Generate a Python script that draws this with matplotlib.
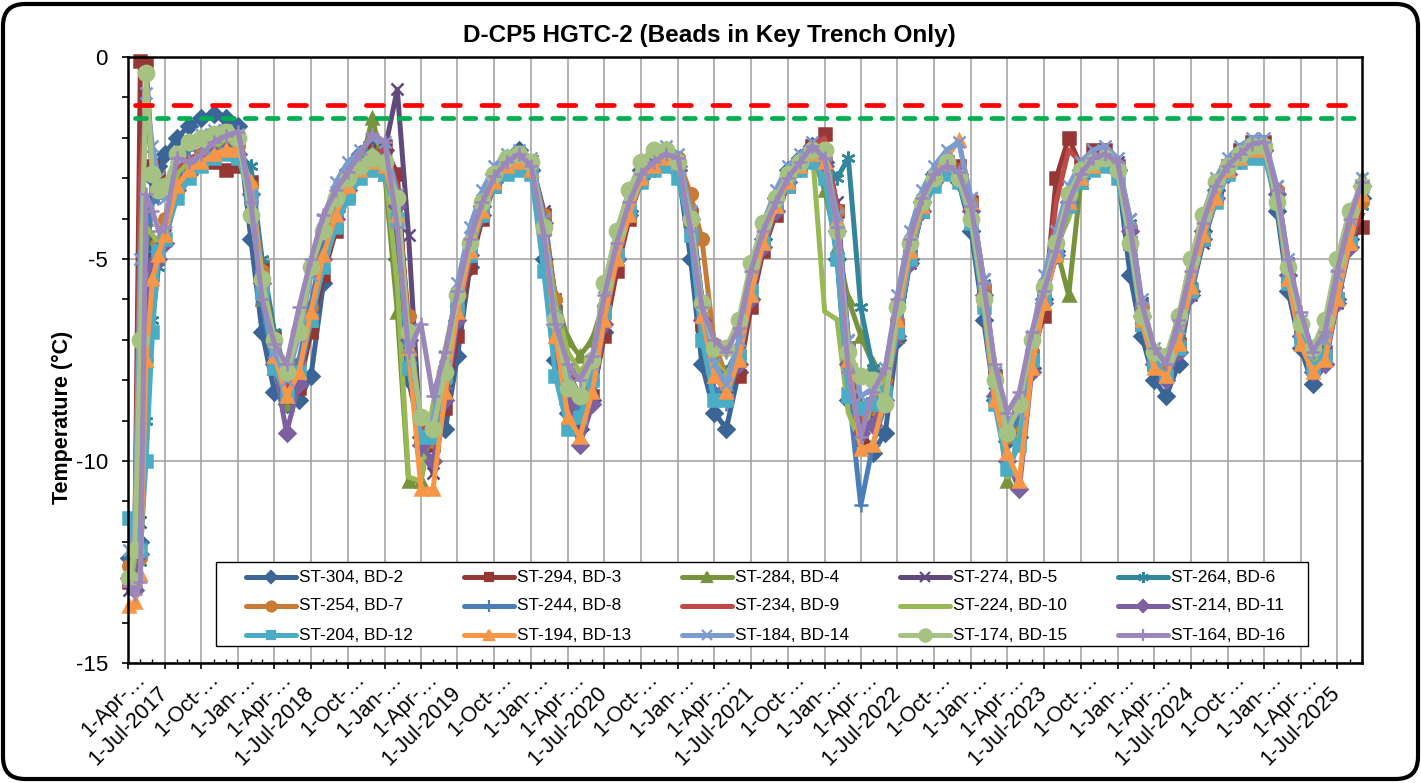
import matplotlib
matplotlib.use("Agg")
import matplotlib.pyplot as plt
import matplotlib.dates as mdates
from matplotlib.patches import FancyBboxPatch, Rectangle
from matplotlib.lines import Line2D
from matplotlib.transforms import ScaledTranslation, IdentityTransform
import pandas as pd

plt.rcParams["font.family"] = ["Liberation Sans", "DejaVu Sans"]
plt.rcParams["axes.unicode_minus"] = False

# sample dates: a few early readings, then monthly
early_dates = ["2017-04-04", "2017-04-18", "2017-05-02", "2017-05-16", "2017-06-01", "2017-06-16"]
dates = list(pd.to_datetime(early_dates)) + list(pd.date_range("2017-07-01", "2025-09-01", freq="MS"))

labels = ["ST-304, BD-2", "ST-294, BD-3", "ST-284, BD-4", "ST-274, BD-5", "ST-264, BD-6",
          "ST-254, BD-7", "ST-244, BD-8", "ST-234, BD-9", "ST-224, BD-10", "ST-214, BD-11",
          "ST-204, BD-12", "ST-194, BD-13", "ST-184, BD-14", "ST-174, BD-15", "ST-164, BD-16"]

bd2 = [-12.4, -12.9, -12.0, -5.5, -3.0, -2.7,
       -2.4, -2.0, -1.7, -1.5, -1.4, -1.5, -1.7, -4.5, -6.8, -8.3,
       -8.6, -8.5, -7.9, -5.6, -3.8, -2.8, -2.4, -2.1, -2.3, -5.0,
       -8.0, -9.4, -9.0, -9.2, -7.4, -5.2, -3.7, -2.9, -2.5, -2.3,
       -2.8, -5.0, -7.5, -8.8, -9.2, -8.5, -6.8, -5.0, -3.8, -2.8,
       -2.4, -2.3, -2.8, -5.0, -7.6, -8.8, -9.2, -7.8, -6.0, -4.5,
       -3.5, -2.8, -2.5, -2.2, -2.6, -5.0, -8.5, -9.5, -9.8, -9.3,
       -7.0, -5.0, -3.6, -2.9, -2.7, -3.1, -4.3, -6.5, -8.5, -9.5,
       -9.4, -7.7, -6.0, -4.8, -3.4, -2.8, -2.5, -2.4, -2.8, -5.4,
       -6.9, -8.0, -8.4, -7.6, -5.8, -4.3, -3.3, -2.7, -2.4, -2.2,
       -2.3, -3.8, -5.8, -7.2, -8.1, -7.6, -6.0, -4.5, -3.5]
bd3 = [-13.0, -12.0, -0.1, -0.2, -2.7, -3.0,
       -3.2, -2.9, -2.6, -2.5, -2.6, -2.8, -2.7, -3.1, -5.2, -6.9,
       -8.3, -8.2, -6.8, -5.4, -4.3, -3.4, -2.8, -2.3, -2.2, -2.9,
       -6.9, -9.4, -9.6, -8.7, -6.9, -5.2, -4.0, -3.2, -2.6, -2.5,
       -2.6, -3.9, -6.3, -7.9, -8.6, -8.4, -6.9, -5.3, -4.0, -3.0,
       -2.6, -2.5, -2.6, -3.9, -6.6, -7.9, -8.2, -7.9, -6.2, -4.8,
       -3.9, -3.2, -2.7, -2.2, -1.9, -3.8, -7.2, -9.4, -8.6, -8.1,
       -6.7, -5.0, -3.8, -3.0, -2.6, -2.7, -3.6, -5.8, -7.9, -9.1,
       -8.8, -7.4, -6.4, -3.0, -2.0, -2.7, -2.3, -2.3, -2.7, -4.6,
       -6.6, -7.6, -7.8, -7.1, -5.8, -4.5, -3.5, -2.7, -2.3, -2.1,
       -2.1, -3.4, -5.5, -6.9, -7.5, -7.3, -6.0, -4.6, -4.2]
bd4 = [-12.7, -13.0, -12.2, -4.0, -4.6, -4.9,
       -4.5, -3.0, -2.7, -2.5, -2.3, -2.2, -2.2, -3.7, -6.0, -7.7,
       -8.6, -8.0, -6.5, -5.1, -4.0, -3.3, -2.8, -1.5, -2.9, -6.3,
       -10.5, -10.5, -8.9, -7.5, -6.0, -4.7, -3.8, -3.0, -2.7, -2.6,
       -2.8, -4.2, -5.9, -7.0, -7.4, -7.0, -6.0, -4.9, -3.8, -3.0,
       -2.7, -2.5, -2.6, -4.0, -6.3, -7.6, -8.1, -7.3, -5.9, -4.6,
       -3.7, -3.1, -2.7, -2.4, -3.3, -4.7, -6.0, -6.9, -7.6, -8.2,
       -6.9, -5.0, -3.8, -3.0, -2.7, -2.9, -3.9, -5.9, -8.2, -10.5,
       -9.3, -7.3, -5.6, -4.7, -5.9, -3.1, -2.6, -2.4, -2.7, -4.4,
       -6.4, -7.5, -7.9, -7.0, -5.6, -4.4, -3.4, -2.8, -2.5, -2.3,
       -2.3, -3.6, -5.4, -6.8, -7.6, -7.4, -6.0, -4.4, -3.0]
bd5 = [-13.2, -12.6, -11.5, -4.6, -5.0, -4.8,
       -4.4, -3.3, -2.9, -2.6, -2.3, -2.2, -2.3, -3.3, -5.7, -7.4,
       -8.5, -7.6, -6.3, -5.0, -4.0, -3.3, -2.8, -2.5, -2.3, -0.8,
       -4.4, -9.6, -10.3, -8.6, -6.6, -5.0, -3.9, -3.1, -2.7, -2.5,
       -2.6, -3.8, -6.0, -7.7, -8.5, -8.2, -6.7, -5.0, -3.8, -3.0,
       -2.6, -2.4, -2.6, -3.6, -6.0, -7.4, -8.1, -7.5, -6.0, -4.7,
       -3.8, -3.1, -2.7, -2.4, -2.6, -3.6, -7.0, -8.6, -8.9, -8.4,
       -6.9, -5.1, -3.8, -3.0, -2.7, -2.8, -3.5, -5.5, -7.8, -9.4,
       -9.2, -7.4, -6.0, -4.9, -3.5, -2.9, -2.6, -2.4, -2.6, -4.0,
       -6.1, -7.4, -7.8, -7.2, -5.9, -4.6, -3.6, -2.9, -2.5, -2.3,
       -2.2, -3.2, -5.1, -6.6, -7.6, -7.4, -6.1, -4.6, -3.4]
bd6 = [-12.4, -12.9, -12.5, -9.0, -6.5, -5.2,
       -4.6, -3.4, -2.9, -2.6, -2.4, -2.3, -2.4, -2.7, -5.0, -6.8,
       -7.9, -7.6, -6.4, -5.1, -4.0, -3.3, -2.9, -2.7, -2.9, -3.6,
       -7.6, -9.7, -9.4, -7.9, -6.2, -4.8, -3.8, -3.1, -2.8, -2.6,
       -2.8, -3.9, -6.2, -7.8, -8.4, -8.0, -6.4, -5.0, -3.9, -3.1,
       -2.8, -2.6, -2.7, -3.8, -6.0, -7.4, -7.8, -7.2, -5.8, -4.6,
       -3.8, -3.2, -2.8, -2.4, -2.6, -3.0, -2.5, -6.2, -7.7, -8.2,
       -6.6, -4.9, -3.7, -3.0, -2.8, -2.9, -3.7, -5.6, -7.8, -9.2,
       -8.9, -7.2, -5.9, -4.8, -3.5, -3.0, -2.7, -2.6, -2.8, -4.1,
       -6.1, -7.3, -7.8, -7.0, -5.7, -4.4, -3.5, -2.9, -2.6, -2.4,
       -2.3, -3.3, -5.1, -6.6, -7.6, -7.5, -6.1, -4.7, -3.7]
bd7 = [-12.6, -13.0, -12.4, -7.5, -5.5, -4.6,
       -4.0, -3.0, -2.6, -2.4, -2.2, -2.1, -2.2, -3.2, -5.3, -7.1,
       -8.1, -7.6, -6.2, -4.8, -3.9, -3.3, -2.8, -2.5, -2.6, -3.6,
       -6.4, -9.2, -9.5, -8.0, -6.2, -4.8, -3.8, -3.1, -2.7, -2.6,
       -2.7, -3.9, -6.0, -7.8, -8.6, -8.0, -6.4, -4.9, -3.8, -3.0,
       -2.6, -2.5, -2.5, -3.4, -4.5, -7.1, -7.9, -7.3, -5.8, -4.6,
       -3.7, -3.1, -2.7, -2.4, -2.5, -3.8, -7.2, -8.8, -8.7, -8.0,
       -6.5, -4.8, -3.7, -3.0, -2.7, -2.8, -3.6, -5.7, -7.9, -9.4,
       -9.1, -7.3, -5.9, -4.9, -3.6, -3.0, -2.7, -2.5, -2.7, -4.2,
       -6.2, -7.4, -7.8, -7.1, -5.7, -4.4, -3.5, -2.8, -2.5, -2.3,
       -2.3, -3.3, -5.2, -6.7, -7.6, -7.4, -6.0, -4.6, -3.6]
bd8 = [-12.8, -13.1, -12.0, -4.8, -3.6, -3.5,
       -3.3, -2.6, -2.3, -2.1, -2.0, -1.9, -2.0, -3.6, -6.1, -7.7,
       -8.2, -7.5, -6.1, -4.6, -3.6, -3.0, -2.6, -2.3, -2.4, -3.9,
       -7.4, -9.1, -9.3, -8.2, -6.4, -4.9, -3.8, -3.0, -2.6, -2.4,
       -2.6, -4.4, -6.8, -8.3, -8.8, -8.1, -6.3, -4.8, -3.7, -2.9,
       -2.5, -2.4, -2.6, -4.4, -6.9, -8.2, -8.6, -7.4, -5.7, -4.4,
       -3.5, -2.9, -2.6, -2.3, -2.5, -4.4, -8.2, -11.1, -9.6, -8.6,
       -6.6, -4.8, -3.6, -2.9, -2.6, -2.9, -4.0, -6.1, -8.2, -9.3,
       -9.0, -7.3, -5.8, -4.7, -3.4, -2.8, -2.5, -2.4, -2.7, -4.7,
       -6.6, -7.7, -8.0, -7.1, -5.6, -4.2, -3.3, -2.7, -2.4, -2.2,
       -2.2, -3.6, -5.5, -6.9, -7.8, -7.3, -5.7, -4.3, -3.3]
bd9 = [-12.9, -12.3, -3.0, -1.0, -2.9, -3.3,
       -3.3, -2.8, -2.5, -2.4, -2.4, -2.5, -2.5, -3.3, -5.5, -7.1,
       -8.2, -7.9, -6.5, -5.1, -4.1, -3.3, -2.8, -2.4, -2.3, -3.2,
       -6.7, -9.1, -9.3, -8.3, -6.5, -5.0, -3.9, -3.1, -2.6, -2.5,
       -2.6, -3.9, -6.2, -7.8, -8.4, -8.1, -6.6, -5.1, -3.9, -3.0,
       -2.6, -2.5, -2.6, -3.8, -6.4, -7.7, -8.1, -7.6, -6.0, -4.7,
       -3.8, -3.1, -2.7, -2.2, -2.0, -3.7, -7.1, -9.2, -8.7, -8.1,
       -6.6, -4.9, -3.7, -3.0, -2.6, -2.7, -3.6, -5.7, -7.8, -9.0,
       -8.8, -7.3, -6.1, -3.6, -2.3, -2.6, -2.3, -2.2, -2.6, -4.5,
       -6.5, -7.6, -7.8, -7.1, -5.7, -4.4, -3.4, -2.7, -2.3, -2.1,
       -2.1, -3.3, -5.4, -6.8, -7.5, -7.3, -5.9, -4.5, -3.9]
bd10 = [-12.8, -12.9, -11.8, -4.2, -4.4, -4.6,
        -4.2, -2.9, -2.6, -2.4, -2.2, -2.1, -2.2, -3.6, -5.8, -7.5,
        -8.4, -7.9, -6.4, -5.0, -3.9, -3.2, -2.8, -2.3, -2.7, -5.6,
        -10.4, -10.5, -8.6, -7.2, -5.8, -4.6, -3.7, -3.0, -2.6, -2.5,
        -2.7, -4.1, -6.1, -7.3, -7.8, -7.4, -6.1, -4.8, -3.7, -2.9,
        -2.6, -2.5, -2.6, -4.0, -6.3, -7.5, -7.9, -7.2, -5.8, -4.5,
        -3.6, -3.0, -2.6, -2.3, -6.3, -6.5, -8.8, -9.6, -8.4, -8.0,
        -6.6, -4.9, -3.7, -3.0, -2.7, -2.8, -3.8, -5.9, -8.1, -10.4,
        -9.4, -7.4, -5.7, -4.7, -4.0, -3.0, -2.6, -2.4, -2.7, -4.4,
        -6.4, -7.5, -7.9, -7.0, -5.6, -4.3, -3.4, -2.8, -2.5, -2.3,
        -2.3, -3.5, -5.3, -6.8, -7.6, -7.3, -5.9, -4.4, -3.2]
bd11 = [-12.9, -13.2, -12.3, -6.0, -5.2, -5.0,
        -4.6, -3.3, -2.9, -2.6, -2.4, -2.3, -2.4, -3.4, -5.6, -7.6,
        -9.3, -8.1, -6.4, -5.0, -4.0, -3.3, -2.9, -2.6, -2.6, -3.7,
        -7.0, -9.6, -10.0, -8.5, -6.5, -4.9, -3.9, -3.1, -2.7, -2.6,
        -2.8, -4.1, -6.6, -8.6, -9.6, -8.6, -6.6, -5.0, -3.9, -3.0,
        -2.7, -2.5, -2.7, -4.0, -6.5, -7.8, -8.4, -7.6, -6.0, -4.7,
        -3.8, -3.1, -2.7, -2.4, -2.7, -4.3, -7.6, -9.3, -9.1, -8.5,
        -6.9, -5.1, -3.8, -3.1, -2.8, -2.9, -3.8, -5.9, -8.4, -10.0,
        -10.7, -7.8, -6.1, -4.9, -3.6, -3.0, -2.7, -2.5, -2.8, -4.3,
        -6.4, -7.6, -8.0, -7.3, -5.9, -4.5, -3.5, -2.9, -2.5, -2.3,
        -2.3, -3.4, -5.4, -6.9, -7.8, -7.6, -6.1, -4.7, -3.2]
bd12 = [-11.4, -11.8, -12.2, -10.0, -6.8, -4.8,
        -4.5, -3.5, -3.0, -2.7, -2.5, -2.4, -2.5, -3.5, -5.8, -7.7,
        -8.4, -7.8, -6.5, -5.2, -4.2, -3.5, -3.0, -2.8, -2.9, -4.0,
        -7.7, -9.4, -9.4, -7.9, -6.2, -4.9, -3.9, -3.2, -2.9, -2.8,
        -2.9, -5.3, -7.9, -9.2, -8.9, -8.0, -6.3, -4.9, -3.8, -3.1,
        -2.8, -2.7, -3.0, -4.4, -7.0, -8.5, -8.5, -7.4, -5.8, -4.6,
        -3.7, -3.2, -2.8, -2.6, -3.0, -5.0, -8.4, -8.7, -8.6, -8.3,
        -6.8, -5.0, -3.8, -3.2, -2.9, -3.1, -4.1, -6.2, -8.6, -10.2,
        -9.6, -7.5, -6.0, -4.9, -3.7, -3.1, -2.8, -2.7, -3.0, -4.6,
        -6.6, -7.6, -7.9, -7.2, -5.8, -4.5, -3.6, -2.9, -2.6, -2.5,
        -2.5, -3.6, -5.6, -7.0, -7.7, -7.4, -6.0, -4.6, -3.2]
bd13 = [-13.6, -13.5, -12.8, -7.5, -5.5, -4.9,
        -4.4, -3.2, -2.8, -2.6, -2.4, -2.3, -2.3, -3.1, -5.4, -7.4,
        -8.4, -7.8, -6.3, -4.9, -3.9, -3.2, -2.8, -2.6, -2.7, -3.9,
        -7.2, -10.7, -10.7, -8.3, -6.3, -4.8, -3.8, -3.1, -2.7, -2.6,
        -2.8, -4.2, -6.9, -8.9, -9.4, -8.3, -6.5, -5.0, -3.9, -3.0,
        -2.7, -2.5, -2.6, -3.9, -6.4, -7.9, -8.3, -7.5, -5.9, -4.6,
        -3.7, -3.1, -2.7, -2.4, -2.6, -4.0, -7.5, -9.7, -9.6, -8.4,
        -6.5, -4.8, -3.7, -2.9, -2.5, -2.05, -3.6, -6.0, -8.5, -9.8,
        -10.5, -7.7, -6.1, -4.9, -3.6, -3.0, -2.7, -2.5, -2.7, -4.4,
        -6.5, -7.7, -7.9, -7.1, -5.7, -4.4, -3.5, -2.8, -2.5, -2.3,
        -2.3, -3.4, -5.5, -7.1, -7.8, -7.5, -6.0, -4.6, -3.4]
bd14 = [-12.2, -11.6, -5.0, -0.9, -2.2, -3.0,
        -3.5, -2.4, -2.1, -1.9, -1.8, -1.8, -1.9, -3.4, -5.6, -7.3,
        -8.0, -6.9, -5.4, -4.0, -3.1, -2.6, -2.3, -2.0, -2.1, -3.4,
        -7.0, -8.9, -9.0, -7.4, -5.6, -4.2, -3.3, -2.7, -2.4, -2.3,
        -2.5, -4.0, -6.4, -7.9, -8.4, -7.6, -5.7, -4.3, -3.3, -2.6,
        -2.3, -2.2, -2.4, -3.8, -6.0, -7.6, -8.1, -7.0, -5.2, -4.1,
        -3.3, -2.7, -2.4, -2.1, -2.4, -3.9, -7.0, -8.4, -8.2, -7.7,
        -5.9, -4.3, -3.3, -2.7, -2.3, -2.1, -3.5, -5.5, -7.8, -9.0,
        -8.8, -6.9, -5.4, -4.3, -3.2, -2.6, -2.3, -2.2, -2.5, -4.0,
        -6.0, -7.2, -7.5, -6.7, -5.2, -3.9, -3.0, -2.5, -2.2, -2.0,
        -2.0, -3.2, -5.0, -6.5, -7.3, -7.0, -5.4, -4.0, -3.0]
bd15 = [-12.9, -12.2, -7.0, -0.4, -2.9, -3.3,
        -3.2, -2.4, -2.1, -2.0, -1.9, -1.85, -2.0, -3.9, -5.5, -7.0,
        -7.8, -6.8, -5.2, -4.3, -3.5, -3.0, -2.7, -2.5, -2.6, -3.5,
        -6.8, -8.9, -9.2, -7.8, -5.9, -4.6, -3.6, -2.9, -2.5, -2.4,
        -2.6, -4.2, -6.5, -8.2, -8.4, -7.5, -5.6, -4.3, -3.3, -2.6,
        -2.3, -2.3, -2.6, -4.0, -6.1, -7.2, -7.2, -6.5, -5.1, -4.1,
        -3.5, -2.9, -2.6, -2.3, -2.3, -4.3, -7.3, -7.9, -8.0, -8.6,
        -6.2, -4.6, -3.6, -3.0, -2.6, -3.0, -4.0, -6.0, -8.0, -9.3,
        -8.6, -7.0, -5.7, -4.6, -3.4, -2.8, -2.6, -2.5, -2.8, -4.6,
        -6.4, -7.3, -7.4, -6.4, -5.0, -3.9, -3.1, -2.7, -2.4, -2.2,
        -2.2, -3.6, -5.2, -6.6, -7.2, -6.5, -5.0, -3.8, -3.2]
bd16 = [-13.1, -13.3, -13.0, -3.4, -3.8, -4.3,
        -4.2, -2.5, -2.6, -2.4, -2.1, -1.95, -1.85, -3.6, -6.0, -7.1,
        -7.6, -6.2, -5.0, -3.9, -3.3, -2.85, -2.4, -1.9, -2.1, -4.2,
        -7.3, -6.6, -8.4, -7.3, -5.8, -4.5, -3.6, -2.95, -2.6, -2.4,
        -2.7, -4.4, -6.6, -7.6, -8.0, -7.4, -5.9, -4.6, -3.6, -2.9,
        -2.6, -2.4, -2.5, -4.3, -6.2, -7.0, -7.3, -6.7, -5.3, -4.3,
        -3.6, -3.0, -2.6, -2.2, -2.5, -4.2, -7.8, -9.4, -8.3, -7.7,
        -6.0, -4.5, -3.5, -2.9, -2.7, -2.85, -3.7, -5.6, -7.6, -8.8,
        -8.3, -6.8, -5.8, -4.8, -3.6, -2.9, -2.5, -2.4, -2.6, -4.2,
        -6.1, -7.2, -7.6, -6.5, -5.3, -4.1, -3.2, -2.7, -2.4, -2.15,
        -2.1, -3.3, -5.0, -6.3, -7.3, -6.8, -5.3, -4.0, -3.1]

series = [bd2, bd3, bd4, bd5, bd6, bd7, bd8, bd9, bd10, bd11, bd12, bd13, bd14, bd15, bd16]

# limit lines
limit_dates = pd.to_datetime(["2017-04-18", "2025-09-01"])
red_limit = -1.2
green_limit = -1.5

colors = ["#3A6596", "#953735", "#77933C", "#604A7B", "#31859C", "#C97B35", "#4A7EBB", "#BE4B48",
          "#98B954", "#7D60A0", "#4BACC6", "#F79646", "#7C9BCF", "#A6C282", "#9B87BA"]
markers = ["D", "s", "^", "x", (6, 2, 0), "o", "+", None, None, "D", "s", "^", "x", "o", "+"]
msizes = [8, 8, 9, 9, 10, 9, 10, 0, 0, 8, 8, 9, 9, 11, 10]

W, H = 1421, 783
fig = plt.figure(figsize=(W / 100, H / 100), dpi=100)
ax = fig.add_axes([128 / W, 1 - 663 / H, 1234 / W, 606 / H])

for vals, lab, c, m, ms in zip(series, labels, colors, markers, msizes):
    assert len(vals) == len(dates), lab
    ax.plot(dates, vals, color=c, lw=3.6, marker=m, ms=ms, mfc=c, mec=c, mew=1.8,
            label=lab, clip_on=False)

ax.plot(limit_dates, [red_limit] * 2, color="#FF0000", lw=3.4, dashes=(3.6, 4.55),
        dash_capstyle="round")
ax.plot(limit_dates, [green_limit] * 2, color="#00B050", lw=3.4, dashes=(2.3, 2.35),
        dash_capstyle="round")

ax.set_ylim(-15, 0)
ax.set_yticks([-15, -10, -5, 0])
ax.yaxis.set_minor_locator(matplotlib.ticker.MultipleLocator(1))
ax.set_xlim(pd.Timestamp("2017-04-01"), pd.Timestamp("2025-09-01"))

tick_dates = pd.date_range("2017-04-01", "2025-07-01", freq="3MS")
ax.set_xticks(tick_dates)
ax.set_xticklabels([])
ax.xaxis.set_minor_locator(mdates.MonthLocator())

ax.grid(True, which="major", color="#A6A6A6", lw=1.2)
ax.set_axisbelow(True)
for sp in ax.spines.values():
    sp.set_linewidth(1.8)

ax.tick_params(axis="y", which="both", direction="out", length=4.5, width=1.2,
               labelsize=16, pad=10)
ax.tick_params(axis="x", which="major", direction="out", length=4.5, width=1.2)
ax.tick_params(axis="x", which="minor", direction="in", length=3, width=1.0)

# Excel-style date labels (truncated ones sit a bit further along)
for d in tick_dates:
    if d.month == 7:
        txt = f"1-Jul-{d.year}"
        off = ScaledTranslation(0.0, -0.27, fig.dpi_scale_trans)
    else:
        txt = f"1-{d.strftime('%b')}-\u2026"
        off = ScaledTranslation(0.14, -0.13, fig.dpi_scale_trans)
    ax.text(mdates.date2num(d), 0, txt, transform=ax.get_xaxis_transform() + off,
            rotation=45, ha="right", va="center", rotation_mode="anchor",
            fontsize=15.5, clip_on=False)

# legend box laid out like Excel: 5 equal columns, filled row by row
fig.add_artist(Rectangle((216 / W, 1 - 646 / H), 1092 / W, 84 / H, transform=fig.transFigure,
                         facecolor="white", edgecolor="black", lw=1.0, zorder=5))
for k, (lab, c, m, ms) in enumerate(zip(labels, colors, markers, msizes)):
    row, col = divmod(k, 5)
    y = 1 - (577 + 29 * row) / H
    x0 = (246 + 218 * col) / W
    x1 = (296 + 218 * col) / W
    fig.add_artist(Line2D([x0, x1], [y, y], transform=fig.transFigure, color=c, lw=3.6,
                          solid_capstyle="round", zorder=6))
    if m is not None:
        fig.add_artist(Line2D([(x0 + x1) / 2], [y], transform=fig.transFigure, color=c,
                              marker=m, ms=ms * 0.8, mfc=c, mec=c, mew=1.6, zorder=7))
    fig.text((299 + 218 * col) / W, y, lab, fontsize=12.4, ha="left", va="center", zorder=8)

fig.text(0.499, 0.955, "D-CP5 HGTC-2 (Beads in Key Trench Only)", fontsize=17.5,
         fontweight="bold", ha="center", va="center")
fig.text(0.0436, 0.467, "Temperature (°C)", rotation=90, fontsize=15.5,
         fontweight="bold", ha="center", va="center")

frame = FancyBboxPatch((3, 4), 1415, 775, boxstyle="round,pad=0,rounding_size=22",
                       transform=IdentityTransform(), fill=False, lw=3.0, edgecolor="black")
fig.add_artist(frame)

fig.savefig("out.png", dpi=100)
